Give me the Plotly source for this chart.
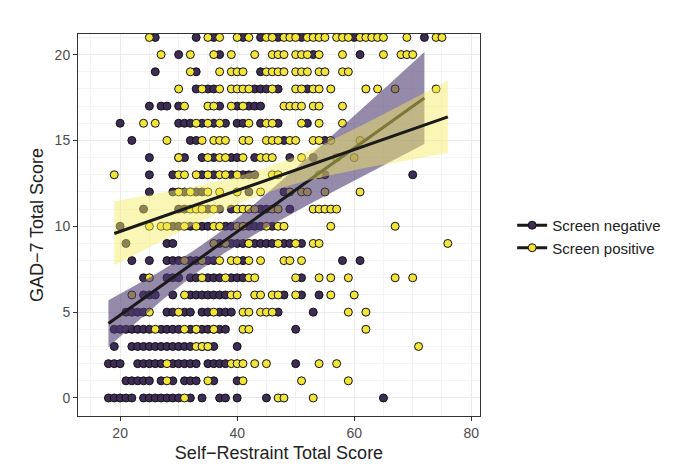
import numpy as np
import plotly.graph_objects as go

# x values (Self-Restraint score) per GAD-7 score row
neg_rows = {
    21: [26, 33, 36, 41, 44, 47, 51, 60, 72],
    20: [30, 37, 53, 61],
    19: [26, 33, 44],
    18: [33, 35, 36, 43, 44, 45, 47, 52],
    17: [25, 27, 28, 30, 37, 40, 42, 43, 44],
    16: [20, 30, 31, 32, 34, 36, 38, 40, 41, 44, 47, 52],
    15: [22, 32, 33, 48, 55],
    14: [25, 30, 31, 34, 36, 39, 40, 43, 49, 53],
    13: [25, 29, 34, 36, 39, 41, 42, 43, 55, 70],
    12: [25, 29, 31, 33, 34, 42, 48],
    11: [24, 30, 31, 35, 37, 39, 44, 45, 49],
    10: [20, 29, 30, 32, 34, 35, 38, 39, 42, 43, 44, 46],
    9: [21, 28, 29, 37, 38, 39, 40, 41, 42, 43, 44, 45, 46, 48, 49, 51],
    8: [22, 25, 28, 29, 30, 32, 33, 35, 36, 41, 58, 61],
    7: [24, 28, 29, 30, 32, 33, 35, 36, 37, 39, 40, 41, 51],
    6: [24, 25, 26, 29, 32, 33, 34, 35, 36, 37, 38, 48, 51, 54],
    5: [21, 22, 23, 24, 28, 29, 31, 32, 34, 35, 37, 38, 39, 47, 53],
    4: [19, 20, 21, 22, 23, 24, 25, 27, 28, 29, 30, 32, 33, 34, 35, 36, 37, 38, 50],
    3: [19, 22, 23, 24, 25, 26, 27, 28, 29, 30, 31, 32, 34, 35, 36, 40],
    2: [18, 19, 20, 23, 24, 25, 26, 27, 29, 30, 31, 32, 33, 35, 36, 37, 38, 50],
    1: [21, 22, 23, 24, 25, 27, 29, 31, 32, 33, 36, 40],
    0: [18, 19, 20, 21, 22, 24, 25, 26, 27, 28, 29, 30, 32, 34, 37, 38, 40, 45, 65],
}
pos_rows = {
    21: [25, 35, 37, 40, 42, 45, 46, 48, 49, 50, 52, 53, 54, 55, 57, 58, 59, 61, 62, 63, 64, 65, 69, 74, 75],
    20: [27, 32, 36, 39, 43, 46, 47, 48, 50, 51, 52, 54, 58, 65, 68, 69, 70],
    19: [32, 37, 39, 40, 41, 45, 46, 47, 48, 50, 51, 52, 54, 55, 58, 59],
    18: [30, 34, 37, 39, 40, 41, 42, 46, 50, 51, 53, 54, 56, 62, 64, 67, 74],
    17: [31, 35, 36, 39, 41, 48, 49, 50, 51, 53, 54, 58],
    16: [24, 26, 33, 35, 37, 42, 45, 46, 51, 54, 58],
    15: [28, 34, 36, 37, 38, 41, 42, 45, 46, 47, 49, 50, 53, 54, 56, 61],
    14: [30, 35, 37, 38, 41, 44, 45, 46, 51, 57, 60],
    13: [19, 30, 31, 33, 35, 37, 38, 40, 46, 47, 54],
    12: [30, 32, 35, 37, 40, 44, 49, 51, 52, 55, 61],
    11: [32, 33, 34, 36, 40, 41, 42, 43, 46, 47, 53, 54, 55, 56, 57],
    10: [25, 27, 28, 31, 33, 36, 37, 40, 41, 45, 47, 48, 56, 67],
    9: [36, 38, 42, 47, 50, 53, 54, 76],
    8: [31, 34, 37, 39, 40, 42, 44, 48, 49, 51],
    7: [25, 34, 38, 42, 43, 50, 54, 56, 59, 67, 70],
    6: [22, 31, 39, 40, 43, 44, 46, 47, 50, 56, 60],
    5: [25, 30, 36, 41, 42, 44, 45, 46, 59, 62],
    4: [26, 31, 33, 36, 41, 42, 62],
    3: [33, 34, 35, 71],
    2: [28, 39, 40, 41, 43, 45, 54, 57],
    1: [28, 35, 41, 51, 59],
    0: [31, 47, 48, 53],
}

groups = [
    ("Screen negative", neg_rows, "#3d2c55", "rgba(80,60,115,0.6)"),
    ("Screen positive", pos_rows, "#f3e43a", "rgba(245,235,90,0.45)"),
]

fig = go.Figure()

# points
for name, rows, col, band in groups:
    xs = [x for y in rows for x in rows[y]]
    ys = [y for y in rows for x in rows[y]]
    fig.add_trace(go.Scatter(x=xs, y=ys, mode="markers", showlegend=False,
                             marker=dict(color=col, size=8, line=dict(color="#111", width=1))))

# linear fits with 95% band
for name, rows, col, band in groups:
    x = np.array([x for y in rows for x in rows[y]], float)
    y = np.array([y for y in rows for x in rows[y]], float)
    n = len(x)
    b, a = np.polyfit(x, y, 1)
    resid = y - (a + b * x)
    s = np.sqrt((resid ** 2).sum() / (n - 2))
    xg = np.linspace(x.min(), x.max(), 60)
    se = s * np.sqrt(1 / n + (xg - x.mean()) ** 2 / ((x - x.mean()) ** 2).sum())
    yg = a + b * xg
    fig.add_trace(go.Scatter(x=np.r_[xg, xg[::-1]], y=np.r_[yg + 1.97 * se, (yg - 1.97 * se)[::-1]],
                             fill="toself", fillcolor=band, line=dict(width=0),
                             mode="lines", showlegend=False, hoverinfo="skip"))
    fig.add_trace(go.Scatter(x=xg, y=yg, mode="lines", line=dict(color="#1a1a1a", width=3),
                             showlegend=False))

# legend keys
for name, rows, col, band in groups:
    fig.add_trace(go.Scatter(x=[None], y=[None], mode="lines+markers", name=name,
                             line=dict(color="#1a1a1a", width=3),
                             marker=dict(color=col, size=8, line=dict(color="#111", width=1))))

axis = dict(showline=True, linecolor="#333", linewidth=1, mirror=True, ticks="outside",
            ticklen=4, tickcolor="#333", gridcolor="#ebebeb", gridwidth=1.2, zeroline=False,
            automargin=False,
            tickfont=dict(size=14, color="#4d4d4d"), title_font=dict(size=18, color="#222"),
            minor=dict(showgrid=True, gridcolor="#f4f4f4", gridwidth=0.6))

fig.update_layout(
    width=685, height=464, plot_bgcolor="white", paper_bgcolor="white",
    font=dict(family="Liberation Sans, Arial", color="#222"),
    margin=dict(l=70, r=213, t=26, b=56),
    xaxis=dict(axis, title=dict(text="Self−Restraint Total Score", standoff=6),
               range=[12.8, 81.5], tickvals=[20, 40, 60, 80]),
    yaxis=dict(axis, title=dict(text="GAD−7 Total Score", standoff=6),
               range=[-1.05, 21.2], tickvals=[0, 5, 10, 15, 20]),
    legend=dict(x=1.08, y=0.47, yanchor="middle", font=dict(size=15), bgcolor="rgba(0,0,0,0)"),
)

fig.write_html("out.html")
